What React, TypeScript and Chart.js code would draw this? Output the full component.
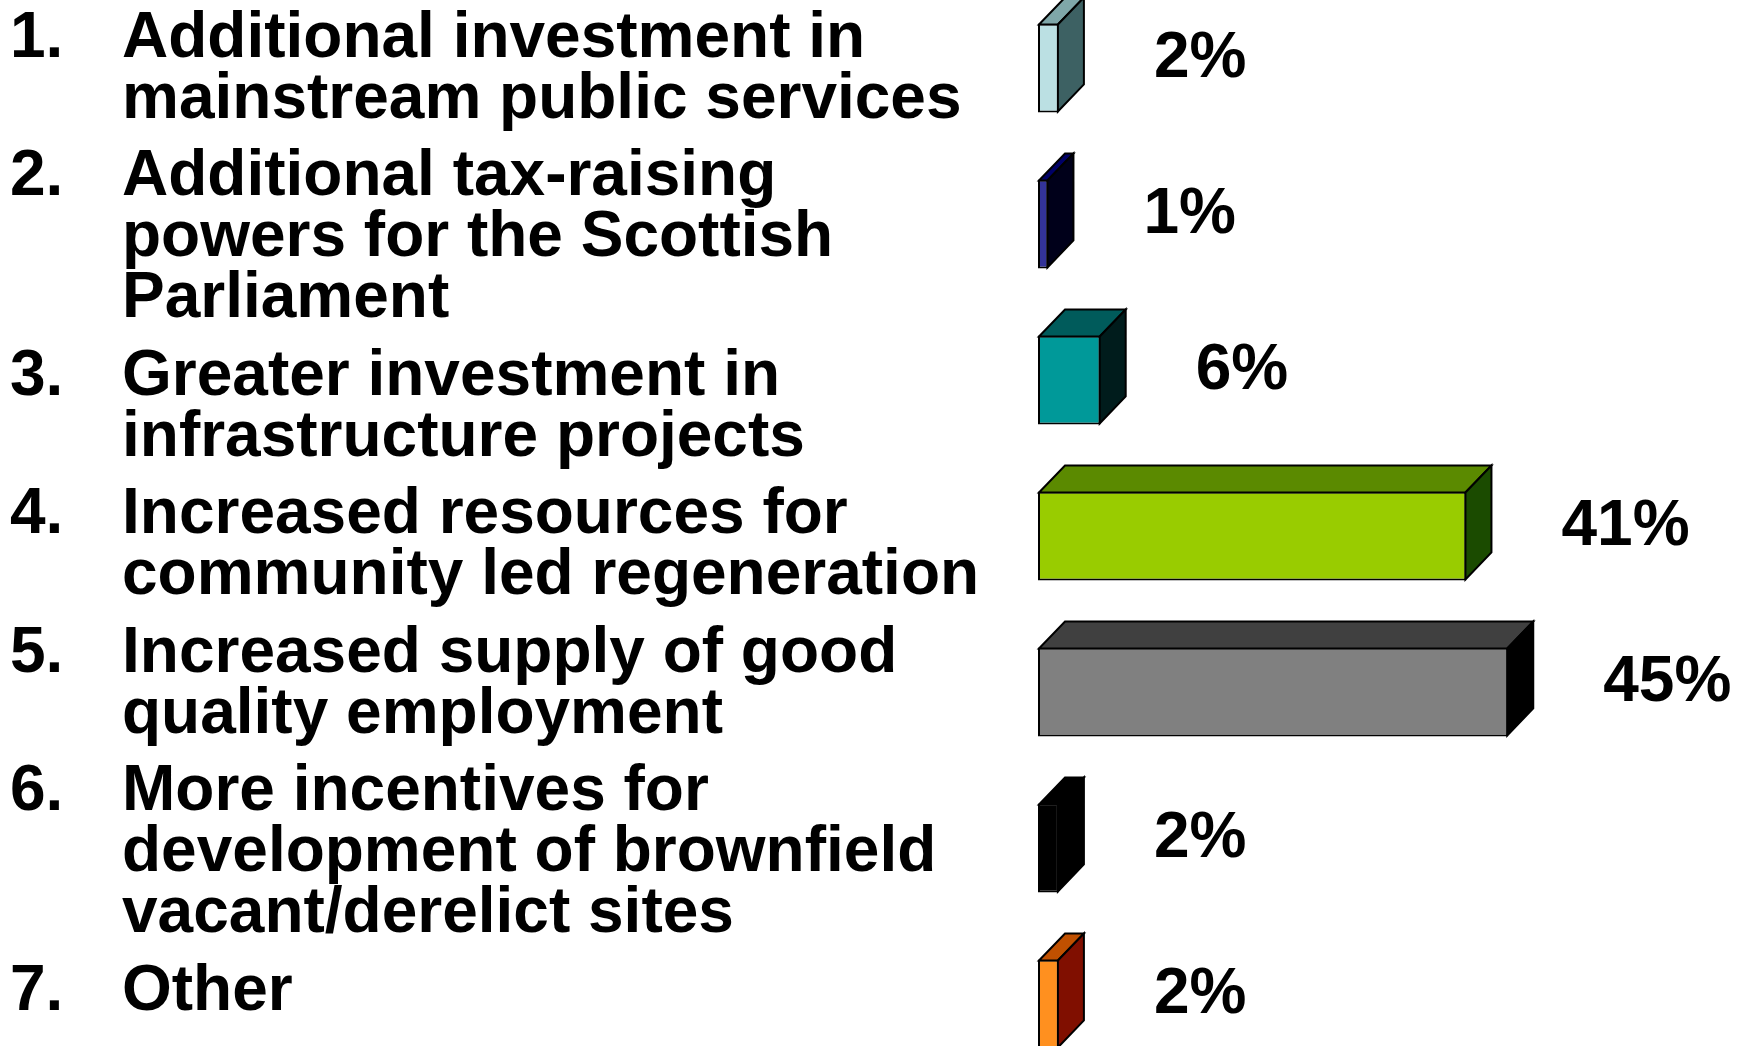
import { useEffect, useRef } from "react";
import { Chart, registerables } from "chart.js";

Chart.register(...registerables);

// ---- data ----
const categories: string[][] = [
  ["Additional investment in", "mainstream public services"],
  ["Additional tax-raising", "powers for the Scottish", "Parliament"],
  ["Greater investment in", "infrastructure projects"],
  ["Increased resources for", "community led regeneration"],
  ["Increased supply of good", "quality employment"],
  ["More incentives for", "development of brownfield", "vacant/derelict sites"],
  ["Other"],
];
const values: number[] = [2, 1, 6, 41, 45, 2, 2];
const valueLabels: string[] = values.map((v) => v + "%");

const frontColors = ["#BBE0E3", "#333399", "#009999", "#99CC00", "#808080", "#000000", "#FF901F"];
const topColors = ["#7FA7A9", "#000066", "#005B5B", "#5B8A00", "#404040", "#000000", "#C05000"];
const sideColors = ["#3D6163", "#00001A", "#001C1C", "#1B4B00", "#000000", "#000000", "#800F00"];

const FONT = 'bold 64px "Liberation Sans", Arial, sans-serif';
const DX = 26;
const DY = 27;
const BW = 2;

const bar3d = {
  id: "bar3d",
  afterDatasetsDraw(chart: any) {
    const ctx = chart.ctx as CanvasRenderingContext2D;
    const meta = chart.getDatasetMeta(0);
    meta.data.forEach((el: any, i: number) => {
      const { x, y, base, height } = el.getProps(["x", "y", "base", "height"], true);
      const l = Math.min(base, x) + BW / 2;
      const r = Math.max(base, x) - BW / 2;
      const t = y - height / 2 + BW / 2;
      const b = y + height / 2 - BW / 2;
      ctx.save();
      ctx.lineWidth = BW;
      ctx.strokeStyle = "#000";
      ctx.lineJoin = "miter";
      // top face
      ctx.beginPath();
      ctx.moveTo(l, t);
      ctx.lineTo(l + DX, t - DY);
      ctx.lineTo(r + DX, t - DY);
      ctx.lineTo(r, t);
      ctx.closePath();
      ctx.fillStyle = topColors[i];
      ctx.fill();
      ctx.stroke();
      // side face
      ctx.beginPath();
      ctx.moveTo(r, t);
      ctx.lineTo(r + DX, t - DY);
      ctx.lineTo(r + DX, b - DY);
      ctx.lineTo(r, b);
      ctx.closePath();
      ctx.fillStyle = sideColors[i];
      ctx.fill();
      ctx.stroke();
      // value label
      ctx.fillStyle = "#000";
      ctx.font = FONT;
      ctx.textBaseline = "alphabetic";
      ctx.textAlign = "left";
      ctx.fillText(valueLabels[i], Math.max(base, x) + 95, y + 9);
      ctx.restore();
    });
  },
};

const leftText = {
  id: "leftText",
  afterDraw(chart: any) {
    const ctx = chart.ctx as CanvasRenderingContext2D;
    ctx.save();
    ctx.fillStyle = "#000";
    ctx.font = FONT;
    ctx.textBaseline = "alphabetic";
    ctx.textAlign = "left";
    let linesBefore = 0;
    categories.forEach((lines, i) => {
      const y0 = 66.7 + 61 * linesBefore + 16.5 * i;
      ctx.fillText(i + 1 + ".", 10, y0);
      lines.forEach((line, k) => {
        ctx.fillText(line, 122, y0 + 61 * k);
      });
      linesBefore += lines.length;
    });
    ctx.restore();
  },
};

export default function App() {
  const ref = useRef<HTMLCanvasElement | null>(null);
  useEffect(() => {
    if (!ref.current) return;
    const chart = new Chart(ref.current, {
      type: "bar",
      data: {
        labels: categories.map((c) => c.join(" ")),
        datasets: [
          {
            data: values,
            backgroundColor: frontColors,
            borderColor: "#000000",
            borderWidth: BW,
            borderSkipped: false,
            barPercentage: 0.57,
            categoryPercentage: 1.0,
          },
        ],
      },
      options: {
        indexAxis: "y",
        responsive: false,
        animation: false,
        layout: { padding: { left: 1038, right: 81, top: 0, bottom: 0 } },
        scales: {
          x: { min: 0, max: 60, display: false },
          y: { display: false },
        },
        plugins: {
          legend: { display: false },
          tooltip: { enabled: false },
        },
      },
      plugins: [bar3d, leftText],
    } as any);
    return () => chart.destroy();
  }, []);
  return (
    <div
      style={{
        position: "fixed",
        left: 0,
        top: 0,
        width: 1746,
        height: 1046,
        overflow: "hidden",
        background: "#ffffff",
      }}
    >
      <canvas
        ref={ref}
        width={1746}
        height={1092}
        style={{ position: "absolute", left: 0, top: -10, width: 1746, height: 1092 }}
      />
    </div>
  );
}
